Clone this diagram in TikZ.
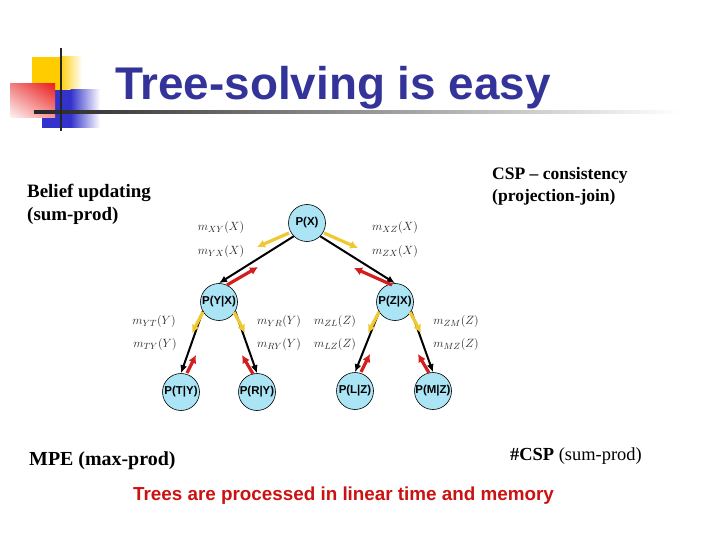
\documentclass[tikz,border=0pt]{standalone}
\usepackage{fontspec}
\setmainfont{Liberation Serif}
\setsansfont{Liberation Sans}
\usetikzlibrary{arrows.meta,calc,shadings}
\definecolor{titleblue}{RGB}{51,51,153}
\definecolor{nodecyan}{RGB}{170,228,245}
\definecolor{msgyellow}{RGB}{240,200,50}
\definecolor{msgred}{RGB}{210,30,30}
\definecolor{trred}{RGB}{204,17,17}
\definecolor{decoyellow}{RGB}{255,204,0}
\definecolor{decoblue}{RGB}{51,51,204}
\definecolor{redUL}{RGB}{240,130,130}
\definecolor{redUR}{RGB}{235,30,30}
\definecolor{redLL}{RGB}{255,245,245}
\definecolor{redLR}{RGB}{245,150,150}
\begin{document}
\begin{tikzpicture}[x=1bp,y=-1bp,
  tnode/.style={circle, draw=black, line width=0.6bp, fill=nodecyan, minimum size=37bp, inner sep=0pt,
    font=\sffamily\bfseries\fontsize{11.5}{12}\selectfont},
  edge/.style={line width=2bp, -{Latex[length=8bp,width=7bp]}},
  ymsg/.style={draw=msgyellow, line width=3.2bp, -{Latex[length=8bp,width=8.5bp]}},
  rmsg/.style={draw=msgred, line width=3.2bp, -{Latex[length=8bp,width=8.5bp]}},
  lbl/.style={font=\fontsize{12.5}{12.5}\selectfont, text=black!85, inner sep=0pt},
  sidetext/.style={anchor=base west, inner sep=0pt}]
\useasboundingbox (0,0) rectangle (720,540);
% decoration
\fill[decoyellow] (32,57) rectangle (60,90);
\shade[left color=decoyellow, right color=white] (59.5,57) rectangle (82,90);
\fill[decoblue] (42,90) rectangle (71,128);
\shade[left color=decoblue, right color=white] (70.5,90) rectangle (100,128);
\shade[upper left=redUL, upper right=redUR, lower left=redLL, lower right=redLR]
  (10,84) rectangle (55,118);
\shade[left color=black!85, middle color=black!45, right color=white] (34,110.8) rectangle (680,113.2);
\draw[line width=2bp, black!85] (61,48) -- (61,131);
% title
\node[anchor=base west, inner sep=0pt, font=\sffamily\bfseries\fontsize{46}{54}\selectfont, text=titleblue]
  (title) at (115,100) {Tree-solving is easy};
% tree nodes
\node[tnode] (px) at (307,223) {P(X)};
\node[tnode] (yx) at (219,302) {P(Y|X)};
\node[tnode] (zx) at (395,302) {P(Z|X)};
\node[tnode] (ty) at (181,392) {P(T|Y)};
\node[tnode] (ry) at (257,392) {P(R|Y)};
\node[tnode] (lz) at (355,391) {P(L|Z)};
\node[tnode] (mz) at (433,391) {P(M|Z)};
% edges
\draw[edge] (px.225) -- (yx.north);
\draw[edge] (px.315) -- (zx.north);
\draw[edge] (yx.210) -- (ty.north);
\draw[edge] (yx.330) -- (ry.north);
\draw[edge] (zx.212) -- (lz.north);
\draw[edge] (zx.330) -- (mz.north);
% messages parent -> child (yellow)
\draw[ymsg] ($(px)+(-18,10)$) -- ($(px)+(-50,24)$);
\draw[ymsg] ($(px)+(17,10)$) -- ($(px)+(51,25)$);
\draw[ymsg] ($(yx)+(-16,10)$) -- ($(yx)+(-27,31)$);
\draw[ymsg] ($(yx)+(15,10)$) -- ($(yx)+(26,31)$);
\draw[ymsg] ($(zx)+(-16,10)$) -- ($(zx)+(-27,31)$);
\draw[ymsg] ($(zx)+(15,10)$) -- ($(zx)+(26,31)$);
% messages child -> parent (red)
\draw[rmsg] ($(yx)+(8,-17)$) -- ($(yx)+(39,-35)$);
\draw[rmsg] ($(zx)+(-3,-17)$) -- ($(zx)+(-41,-34)$);
\draw[rmsg] ($(ty)+(6,-19)$) -- ($(ty)+(15,-37)$);
\draw[rmsg] ($(ry)+(-4,-18)$) -- ($(ry)+(-15,-37)$);
\draw[rmsg] ($(lz)+(6,-19)$) -- ($(lz)+(15,-37)$);
\draw[rmsg] ($(mz)+(-4,-18)$) -- ($(mz)+(-15,-37)$);
% message labels
\node[lbl] (mxy) at (221,228) {$m_{XY}(X)$};
\node[lbl] (myx) at (221,252) {$m_{YX}(X)$};
\node[lbl] (mxz) at (395,228) {$m_{XZ}(X)$};
\node[lbl] (mzx) at (395,252) {$m_{ZX}(X)$};
\node[lbl] (myt) at (154,322) {$m_{YT}(Y)$};
\node[lbl] (mty) at (155,345) {$m_{TY}(Y)$};
\node[lbl] (myr) at (279,322) {$m_{YR}(Y)$};
\node[lbl] (mry) at (279,345) {$m_{RY}(Y)$};
\node[lbl] (mzl) at (335,322) {$m_{ZL}(Z)$};
\node[lbl] (mlz) at (335,345) {$m_{LZ}(Z)$};
\node[lbl] (mzm) at (456,322) {$m_{ZM}(Z)$};
\node[lbl] (mmz) at (456,345) {$m_{MZ}(Z)$};
% side texts
\node[sidetext, font=\bfseries\fontsize{19}{22}\selectfont] (bu1) at (27,198) {Belief updating};
\node[sidetext, font=\bfseries\fontsize{19}{22}\selectfont] (bu2) at (27,221) {(sum-prod)};
\node[sidetext, font=\bfseries\fontsize{17.6}{21}\selectfont] (csp1) at (492,180) {CSP – consistency};
\node[sidetext, font=\bfseries\fontsize{17.6}{21}\selectfont] (csp2) at (492,202) {(projection-join)};
\node[sidetext, font=\bfseries\fontsize{20}{22}\selectfont] (mpe) at (29,465) {MPE (max-prod)};
\node[sidetext, font=\fontsize{18.5}{22}\selectfont] (ncsp) at (510,460) {\textbf{\#CSP} (sum-prod)};
\node[sidetext, font=\sffamily\bfseries\fontsize{18.9}{20}\selectfont, text=trred] (trees) at (133,500)
  {Trees are processed in linear time and memory};
\end{tikzpicture}
\end{document}
